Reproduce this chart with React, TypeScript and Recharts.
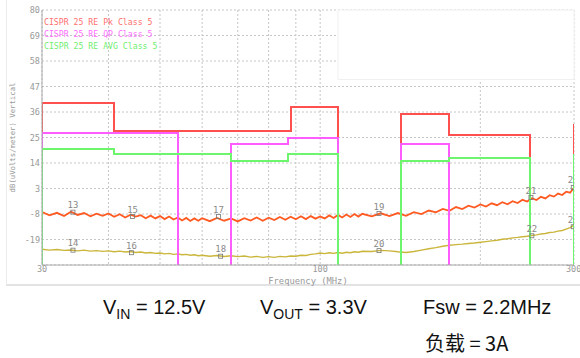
import { ComposedChart, Line, Scatter, XAxis, YAxis, CartesianGrid, Legend, ReferenceArea } from 'recharts';

// frequencies (MHz) of the scan samples
const freqs = [
    30, 31, 32, 33, 34, 35, 36, 37, 38, 39, 40, 41, 42, 43, 44, 45, 46, 47, 48, 49, 50,
    51, 52, 53, 54, 55, 56, 57, 58, 59, 60, 62, 64, 66, 68, 70, 72, 74, 76, 78, 80,
    82, 84, 86, 88, 90, 92, 94, 96, 98, 100, 102, 104, 106, 108, 110, 112, 114, 116, 118, 120,
    125, 130, 135, 140, 145, 150, 155, 160, 165, 170, 175, 180, 185, 190, 195, 200,
    205, 210, 215, 220, 225, 230, 235, 240, 245, 250, 255, 260, 265, 270, 275, 280, 285, 290, 295, 300,
];

// peak trace (orange), dBuV/m
const pkTrace = [
    -7.2, -8.6, -7.5, -8.9, -7.0, -8.4, -7.6, -9.0, -7.9, -8.8, -7.8, -9.2, -8.1, -9.5, -8.3, -9.1, -8.5, -9.8, -8.7, -9.9, -8.9,
    -10.2, -9.1, -10.4, -9.5, -10.8, -9.7, -11.0, -9.9, -10.9, -9.8, -11.1, -9.7, -10.9, -9.9, -11.2, -9.8, -10.8, -9.5, -10.9, -9.6,
    -10.6, -9.3, -10.5, -9.2, -10.3, -9.0, -10.2, -8.9, -10.0, -9.1, -9.9, -8.6, -9.7, -8.4, -9.5, -8.2, -9.3, -8.0, -9.1, -7.9,
    -9.0, -7.7, -8.9, -7.6, -8.8, -7.2, -8.0, -6.5, -7.3, -5.8, -6.6, -5.0, -5.9, -4.4, -5.2, -3.9,
    -4.8, -3.4, -4.2, -2.9, -3.8, -2.5, -3.3, -1.9, -2.6, -1.2, -2.0, -0.6, -1.3, 0.1, -0.5, 0.8, 0.2, 1.6, 1.2, 3.4,
];

// average trace (olive), dBuV/m
const avgTrace = [
    -23.2, -23.6, -23.3, -23.7, -23.5, -23.9, -23.6, -24.0, -23.8, -24.1, -23.9, -24.3, -24.0, -24.4, -24.2, -24.6, -24.4, -24.8, -24.6, -25.0, -24.8,
    -25.2, -25.0, -25.4, -25.2, -25.6, -25.4, -25.8, -25.6, -26.0, -25.8, -26.2, -25.9, -26.3, -26.0, -26.4, -26.1, -26.6, -26.3, -26.7, -26.4,
    -26.7, -26.3, -26.5, -26.1, -26.2, -25.8, -25.9, -25.4, -25.2, -24.8, -25.1, -24.7, -25.0, -24.6, -24.9, -24.5, -24.7, -24.3, -24.5, -24.1,
    -24.2, -23.7, -23.9, -24.3, -24.6, -24.2, -23.6, -23.0, -22.5, -21.9, -21.5, -21.2, -21.0, -20.7, -20.5, -20.2,
    -19.9, -19.6, -19.3, -18.9, -18.7, -18.3, -18.1, -17.8, -17.6, -17.3, -17.0, -16.6, -16.4, -16.0, -15.8, -15.4, -15.1, -14.5, -13.9, -12.8,
];

// CISPR 25 class 5 limit steps [MHz, dB], null breaks the line
const pkLimit: [number, number | null][] = [
    [30, -30], [30, 40], [41, 40], [41, 28], [88, 28], [88, 38], [108, 38], [108, -30], [120, null],
    [142, -30], [142, 35], [175, 35], [175, 26], [248, 26], [248, -30], [270, null], [300, 31], [300, -30],
];
const qpLimit: [number, number | null][] = [
    [30, -30], [30, 27], [54, 27], [54, -30], [60, null],
    [68, -30], [68, 22], [87, 22], [87, 25], [108, 25], [108, -30], [120, null],
    [142, -30], [142, 22], [175, 22], [175, -30],
];
const avgLimit: [number, number | null][] = [
    [30, -30], [30, 20], [41, 20], [41, 18], [68, 18], [68, 15], [87, 15], [87, 18], [108, 18], [108, -30], [120, null],
    [142, -30], [142, 15], [175, 15], [175, 16], [248, 16], [248, -30], [270, null], [300, -30], [300, 18],
];

// numbered markers
const markers = [
    { f: 34.3, v: -7.2, label: '13' },
    { f: 34.3, v: -23.6, label: '14' },
    { f: 44.4, v: -9.1, label: '15' },
    { f: 44.2, v: -24.7, label: '16' },
    { f: 64.4, v: -9.1, label: '17' },
    { f: 65, v: -26.2, label: '18' },
    { f: 129, v: -7.8, label: '19' },
    { f: 129, v: -23.8, label: '20' },
    { f: 249, v: -0.9, label: '21' },
    { f: 250, v: -17.4, label: '22' },
    { f: 299, v: 3.5, label: '23' },
    { f: 299, v: -13.5, label: '24' },
];

const yTicks = [-30, -19, -8, 3, 14, 25, 36, 47, 58, 69, 80];
const xTicks = [30, 40, 50, 60, 70, 80, 90, 100, 200, 300];
const xLabels = [30, 100, 300];

const legendItems = [
    { name: 'CISPR 25 RE Pk Class 5', color: '#ff7070' },
    { name: 'CISPR 25 RE QP Class 5', color: '#ff70ff' },
    { name: 'CISPR 25 RE AVG Class 5', color: '#70ee70' },
];

const traceData = freqs.map((f, i) => ({ f, pk: pkTrace[i], avg: avgTrace[i] }));
const toRows = (arr: [number, number | null][]) => arr.map(([f, v]) => ({ f, v }));

const mono = '"DejaVu Sans Mono", monospace';

const Marker = (props: any) => {
    const { cx, cy, payload } = props;
    return (
        <g>
            <rect x={cx - 2} y={cy - 2} width={4} height={4} fill="none" stroke="#777" strokeWidth={0.8} />
            <text x={cx} y={cy - 4} textAnchor="middle" fontSize={9} fontFamily={mono} fill="#888">
                {payload.label}
            </text>
        </g>
    );
};

const LegendBox = () => (
    <div style={{ fontFamily: mono, fontSize: 8.2, lineHeight: '12px', textAlign: 'left' }}>
        {legendItems.map((it) => (
            <div key={it.name} style={{ color: it.color, whiteSpace: 'pre' }}>
                {it.name}
            </div>
        ))}
    </div>
);

const App = () => {
    return (
        <div style={{ position: 'absolute', left: 0, top: 0, width: 580, height: 358, background: 'white', fontFamily: '"Liberation Sans", Arial, sans-serif' }}>
            <div style={{ position: 'absolute', left: 6, top: 0, width: 574, height: 284, borderLeft: '1px solid #ececec', borderBottom: '2px solid #e2e2e2' }} />
            <ComposedChart width={580} height={290} margin={{ top: 10, right: 6, bottom: 0, left: 0 }}>
                <CartesianGrid stroke="#c6c6c6" strokeDasharray="2 2" />
                <ReferenceArea x1={108} x2={300} y1={50} y2={80} fill="#ffffff" fillOpacity={1} stroke="#f0f0f0" ifOverflow="visible" />
                <XAxis
                    dataKey="f"
                    type="number"
                    scale="log"
                    domain={[30, 300]}
                    ticks={xTicks}
                    allowDataOverflow
                    height={25}
                    tickLine={false}
                    tickSize={0}
                    tickMargin={1}
                    stroke="#aaa"
                    tick={{ fontSize: 8.5, fontFamily: mono, fill: '#999' }}
                    tickFormatter={(v) => (xLabels.includes(v) ? String(v) : '')}
                    label={{ value: 'Frequency (MHz)', position: 'insideBottom', offset: 6, fontSize: 8.8, fontFamily: mono, fill: '#999' }}
                />
                <YAxis
                    type="number"
                    domain={[-30, 80]}
                    ticks={yTicks}
                    width={42}
                    tickLine={false}
                    tickSize={0}
                    tickMargin={2}
                    stroke="#aaa"
                    tick={{ fontSize: 8.5, fontFamily: mono, fill: '#999' }}
                    tickFormatter={(v) => (v === -30 ? '' : String(v))}
                    label={{
                        content: ({ viewBox }: any) => {
                            const cx = 12;
                            const cy = viewBox.y + viewBox.height / 2;
                            return (
                                <text x={cx} y={cy} transform={`rotate(-90 ${cx} ${cy})`} textAnchor="middle" dominantBaseline="central" fontSize={7.3} fontFamily={mono} fill="#999">
                                    dB(uVolts/meter) Vertical
                                </text>
                            );
                        },
                    }}
                />
                <Legend layout="vertical" verticalAlign="middle" align="center" content={LegendBox} wrapperStyle={{ left: 44, top: 16, width: 'auto' }} />
                <Line data={traceData} dataKey="pk" stroke="#ff5a22" strokeWidth={1.8} dot={false} isAnimationActive={false} legendType="none" />
                <Line data={traceData} dataKey="avg" stroke="#cbb63c" strokeWidth={1.4} dot={false} isAnimationActive={false} legendType="none" />
                <Line data={toRows(pkLimit)} dataKey="v" stroke="#ff5050" strokeWidth={2} shapeRendering="crispEdges" dot={false} connectNulls={false} isAnimationActive={false} />
                <Line data={toRows(qpLimit)} dataKey="v" stroke="#ff5cff" strokeWidth={2} shapeRendering="crispEdges" dot={false} connectNulls={false} isAnimationActive={false} />
                <Line data={toRows(avgLimit)} dataKey="v" stroke="#6ef56e" strokeWidth={2} shapeRendering="crispEdges" dot={false} connectNulls={false} isAnimationActive={false} />
                <Scatter data={markers} dataKey="v" shape={Marker} isAnimationActive={false} />
            </ComposedChart>
            <div style={{ position: 'absolute', left: 103, top: 296, fontSize: 20, color: '#111', whiteSpace: 'nowrap' }}>
                V<sub style={{ fontSize: 14 }}>IN</sub> = 12.5V
            </div>
            <div style={{ position: 'absolute', left: 260, top: 296, fontSize: 20, color: '#111', whiteSpace: 'nowrap' }}>
                V<sub style={{ fontSize: 14 }}>OUT</sub> = 3.3V
            </div>
            <div style={{ position: 'absolute', left: 423, top: 296, fontSize: 20, color: '#111', whiteSpace: 'nowrap' }}>
                Fsw = 2.2MHz
            </div>
            <div style={{ position: 'absolute', left: 425, top: 328, fontSize: 20, color: '#111', whiteSpace: 'nowrap', fontFamily: '"Noto Sans CJK SC", "Liberation Sans", sans-serif' }}>
                负载 = 3A
            </div>
        </div>
    );
};

export default App;
